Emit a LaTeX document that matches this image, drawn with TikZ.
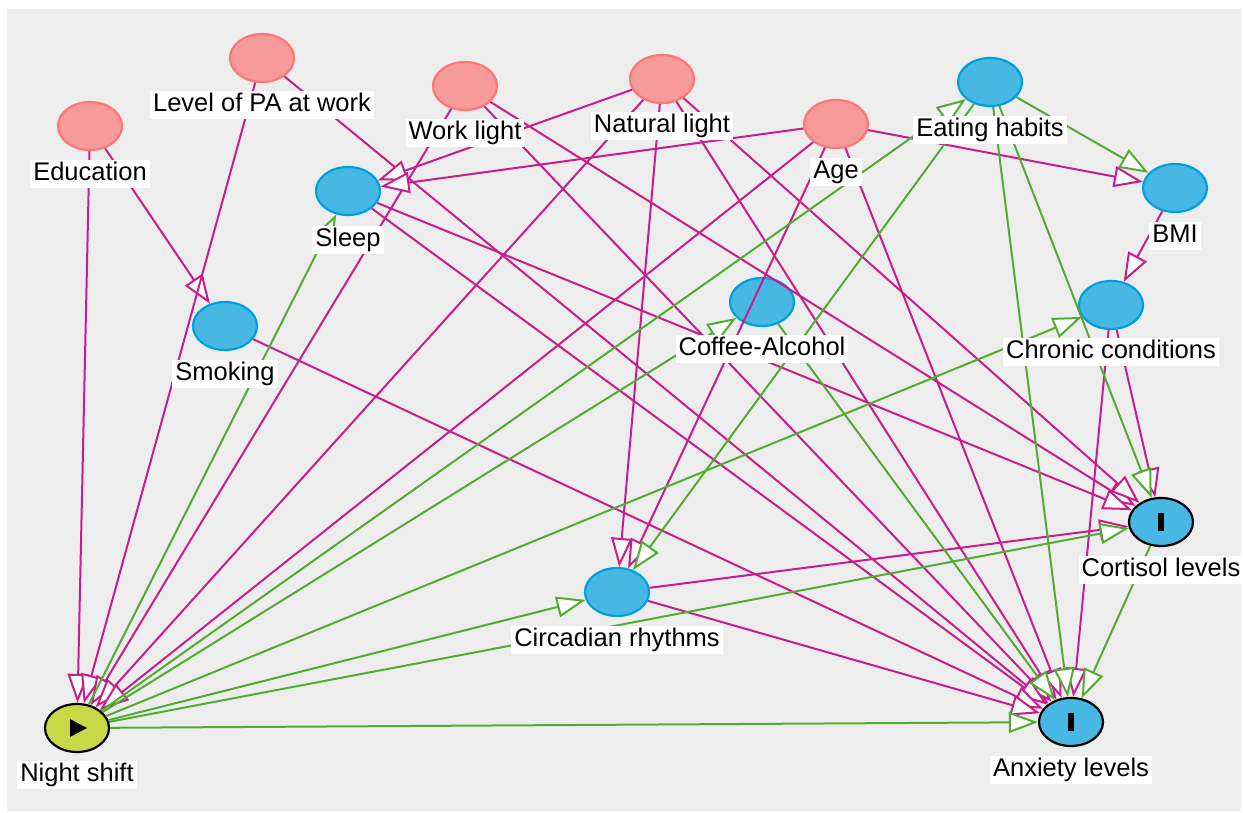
\documentclass[tikz,border=0pt]{standalone}
\usepackage{fontspec}
\setmainfont{Liberation Sans}
\usetikzlibrary{arrows.meta,shapes.geometric}
\definecolor{bgc}{RGB}{237,237,237}
\definecolor{confFill}{RGB}{246,154,154}
\definecolor{confDraw}{RGB}{255,118,118}
\definecolor{ancFill}{RGB}{71,184,228}
\definecolor{ancDraw}{RGB}{0,160,222}
\definecolor{expFill}{RGB}{200,216,70}
\definecolor{biasCol}{RGB}{200,30,140}
\definecolor{causCol}{RGB}{82,172,50}
\begin{document}
\begin{tikzpicture}[x=1pt,y=-1pt,
  var/.style={ellipse, minimum width=64pt, minimum height=48pt, inner sep=0pt, line width=2.2pt},
  conf/.style={var, draw=confDraw, fill=confFill},
  anc/.style={var, draw=ancDraw, fill=ancFill},
  expo/.style={var, draw=black, fill=expFill},
  outc/.style={var, draw=black, fill=ancFill},
  lbl/.style={fill=white, inner xsep=3pt, inner ysep=1pt, text height=19.5pt, text depth=6.5pt, font=\fontsize{25.5}{29}\selectfont},
  tipstyle/.style={-{Triangle[length=29pt,width=21pt,fill=white]}},
  bias/.style={draw=biasCol, line width=2pt, tipstyle},
  caus/.style={draw=causCol, line width=2pt, tipstyle}
]
\useasboundingbox (0,0) rectangle (1244,813);
\fill[white] (0,0) rectangle (1244,813);
\fill[bgc] (7,9) rectangle (1241,811);

% nodes
\node[conf] (edu) at (90,126) {};
\node[conf] (pa) at (262,58) {};
\node[conf] (wl) at (465,86) {};
\node[conf] (nl) at (662,79) {};
\node[conf] (age) at (836,124) {};
\node[anc] (eat) at (990,82) {};
\node[anc] (bmi) at (1175,188) {};
\node[anc] (chr) at (1111,305) {};
\node[anc] (slp) at (348,191) {};
\node[anc] (smk) at (225,326) {};
\node[anc] (cof) at (762,302) {};
\node[anc] (cir) at (617,592) {};
\node[outc] (cor) at (1161,522) {};
\node[outc] (anx) at (1071,722) {};
\node[expo] (ns) at (77,728) {};

% symbols
\fill[black] (ns.center) ++(-7,-9) -- ++(0,18) -- ++(17,-9) -- cycle;
\fill[black] (cor.center) ++(-3,-9) rectangle ++(6,18);
\fill[black] (anx.center) ++(-3,-9) rectangle ++(6,18);

% biasing edges
\draw[bias] (edu) -- (ns);
\draw[bias] (edu) -- (smk);
\draw[bias] (pa) -- (ns);
\draw[bias] (pa) -- (anx);
\draw[bias] (wl) -- (ns);
\draw[bias] (wl) -- (cor);
\draw[bias] (wl) -- (anx);
\draw[bias] (nl) -- (ns);
\draw[bias] (nl) -- (slp);
\draw[bias] (nl) -- (cir);
\draw[bias] (nl) -- (cor);
\draw[bias] (nl) -- (anx);
\draw[bias] (age) -- (ns);
\draw[bias] (age) -- (slp);
\draw[bias] (age) -- (bmi);
\draw[bias] (age) -- (cir);
\draw[bias] (age) -- (anx);
\draw[bias] (slp) -- (cor);
\draw[bias] (slp) -- (anx);
\draw[bias] (smk) -- (anx);
\draw[bias] (bmi) -- (chr);
\draw[bias] (chr) -- (cor);
\draw[bias] (chr) -- (anx);
\draw[bias] (cir) -- (cor);
\draw[bias] (cir) -- (anx);

% causal edges
\draw[caus] (ns) -- (slp);
\draw[caus] (ns) -- (eat);
\draw[caus] (ns) -- (cof);
\draw[caus] (ns) -- (chr);
\draw[caus] (ns) -- (cir);
\draw[caus] (ns) -- (cor);
\draw[caus] (ns) -- (anx);
\draw[caus] (eat) -- (bmi);
\draw[caus] (eat) -- (cir);
\draw[caus] (eat) -- (cor);
\draw[caus] (eat) -- (anx);
\draw[caus] (cof) -- (anx);
\draw[caus] (cor) -- (anx);

% labels
\node[lbl] (edul) at (90,174) {Education};
\node[lbl] (pal) at (262,105) {Level of PA at work};
\node[lbl] (wll) at (465,133) {Work light};
\node[lbl] (nll) at (662,126) {Natural light};
\node[lbl] (agel) at (836,172) {Age};
\node[lbl] (eatl) at (990,130) {Eating habits};
\node[lbl] (bmil) at (1175,236) {BMI};
\node[lbl] (chrl) at (1111,352) {Chronic conditions};
\node[lbl] (slpl) at (348,240) {Sleep};
\node[lbl] (smkl) at (225,374) {Smoking};
\node[lbl] (cofl) at (762,349) {Coffee-Alcohol};
\node[lbl] (cirl) at (617,640) {Circadian rhythms};
\node[lbl] (corl) at (1161,570) {Cortisol levels};
\node[lbl] (anxl) at (1071,770) {Anxiety levels};
\node[lbl] (nsl) at (77,775) {Night shift};
\end{tikzpicture}
\end{document}
